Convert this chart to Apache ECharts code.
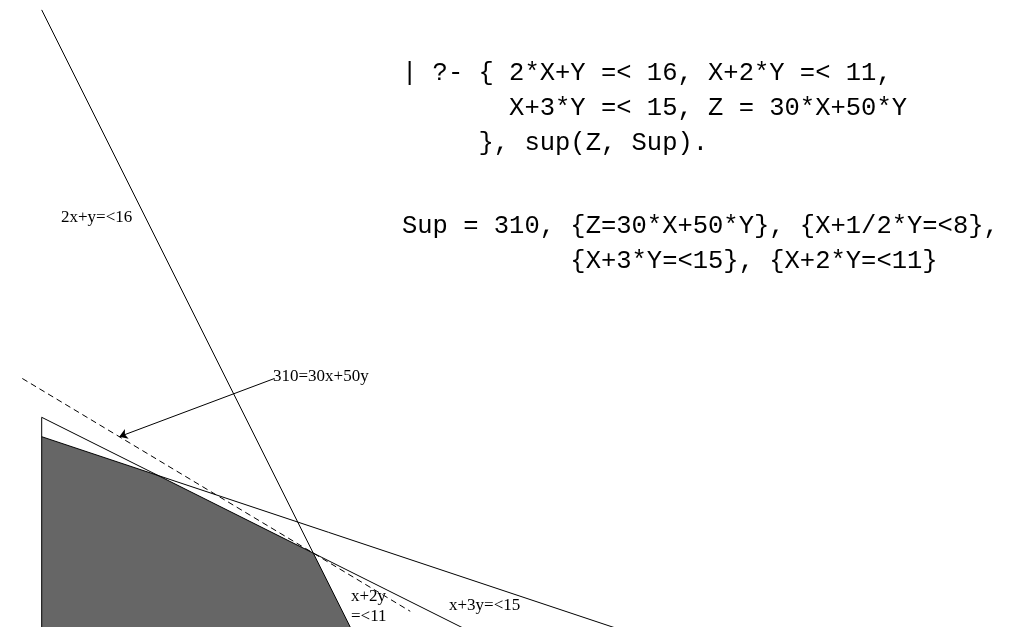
<!DOCTYPE html>
<html>
<head>
<meta charset="utf-8">
<script src="https://cdn.jsdelivr.net/npm/echarts@6/dist/echarts.min.js"></script>
<style>
html,body{margin:0;padding:0;background:#fff;}
#c{width:1022px;height:627px;}
</style>
</head>
<body>
<div id="c"></div>
<script>
// Data (x, y) in problem units
const feasibleTop = [[0, 5], [3, 4], [7, 2], [8, 0]];
const line2xy16 = [[0, 16], [8, 0]];
const lineX2y11 = [[0, 5.5], [11, 0]];
const lineX3y15 = [[0, 5], [15, 0]];
const iso310 = [[-0.5, 6.5], [9.5, 0.5]];
const yEdge = [[0, 0], [0, 5.5]];
const arrowPath = [[6, 6.5], [2, 5]];
const queryLines = [
  '| ?- { 2*X+Y =< 16, X+2*Y =< 11,',
  '       X+3*Y =< 15, Z = 30*X+50*Y',
  '     }, sup(Z, Sup).'
];
const answerLines = [
  'Sup = 310, {Z=30*X+50*Y}, {X+1/2*Y=<8},',
  '           {X+3*Y=<15}, {X+2*Y=<11}'
];

const chart = echarts.init(document.getElementById('c'), null, {renderer: 'canvas'});
const blackLine = (data, extra) => Object.assign({
  type: 'line', data: data, symbol: 'none', silent: true, animation: false,
  lineStyle: {color: '#000', width: 1}
}, extra || {});

const mono = "'Liberation Mono', 'DejaVu Sans Mono', monospace";
const serif = "'Liberation Serif', 'DejaVu Serif', serif";
const graphics = [];
queryLines.forEach((t, i) => graphics.push({
  type: 'text', left: 402, top: 60 + i * 35,
  style: {text: t, font: '25.5px ' + mono, fill: '#000'}
}));
answerLines.forEach((t, i) => graphics.push({
  type: 'text', left: 402, top: 213 + i * 35,
  style: {text: t, font: '25.5px ' + mono, fill: '#000'}
}));
const labels = [
  ['2x+y=<16', 61, 209],
  ['310=30x+50y', 273, 368],
  ['x+2y', 351, 588],
  ['=<11', 351, 608],
  ['x+3y=<15', 449, 597]
];
labels.forEach(l => graphics.push({
  type: 'text', left: l[1], top: l[2],
  style: {text: l[0], font: '17px ' + serif, fill: '#000'}
}));

chart.setOption({
  animation: false,
  backgroundColor: '#fff',
  grid: {left: 0, right: 0, top: 0, bottom: 0},
  xAxis: {type: 'value', min: -1.075, max: 25.27, show: false},
  yAxis: {type: 'value', min: 0.095, max: 16.255, show: false},
  graphic: graphics,
  series: [
    {
      type: 'line', data: feasibleTop, symbol: 'none', silent: true,
      lineStyle: {width: 0},
      areaStyle: {color: '#666666', opacity: 1, origin: 'start'},
      z: 1
    },
    blackLine(yEdge, {z: 3}),
    blackLine(line2xy16, {z: 3}),
    blackLine(lineX2y11, {z: 3}),
    blackLine(lineX3y15, {z: 3}),
    blackLine(iso310, {z: 3, lineStyle: {color: '#000', width: 1, type: [6, 4]}}),
    {
      type: 'lines', coordinateSystem: 'cartesian2d', silent: true, z: 4,
      symbol: ['none', 'arrow'], symbolSize: 8,
      lineStyle: {color: '#000', width: 1, opacity: 1},
      data: [{coords: arrowPath}]
    }
  ]
});
</script>
</body>
</html>
